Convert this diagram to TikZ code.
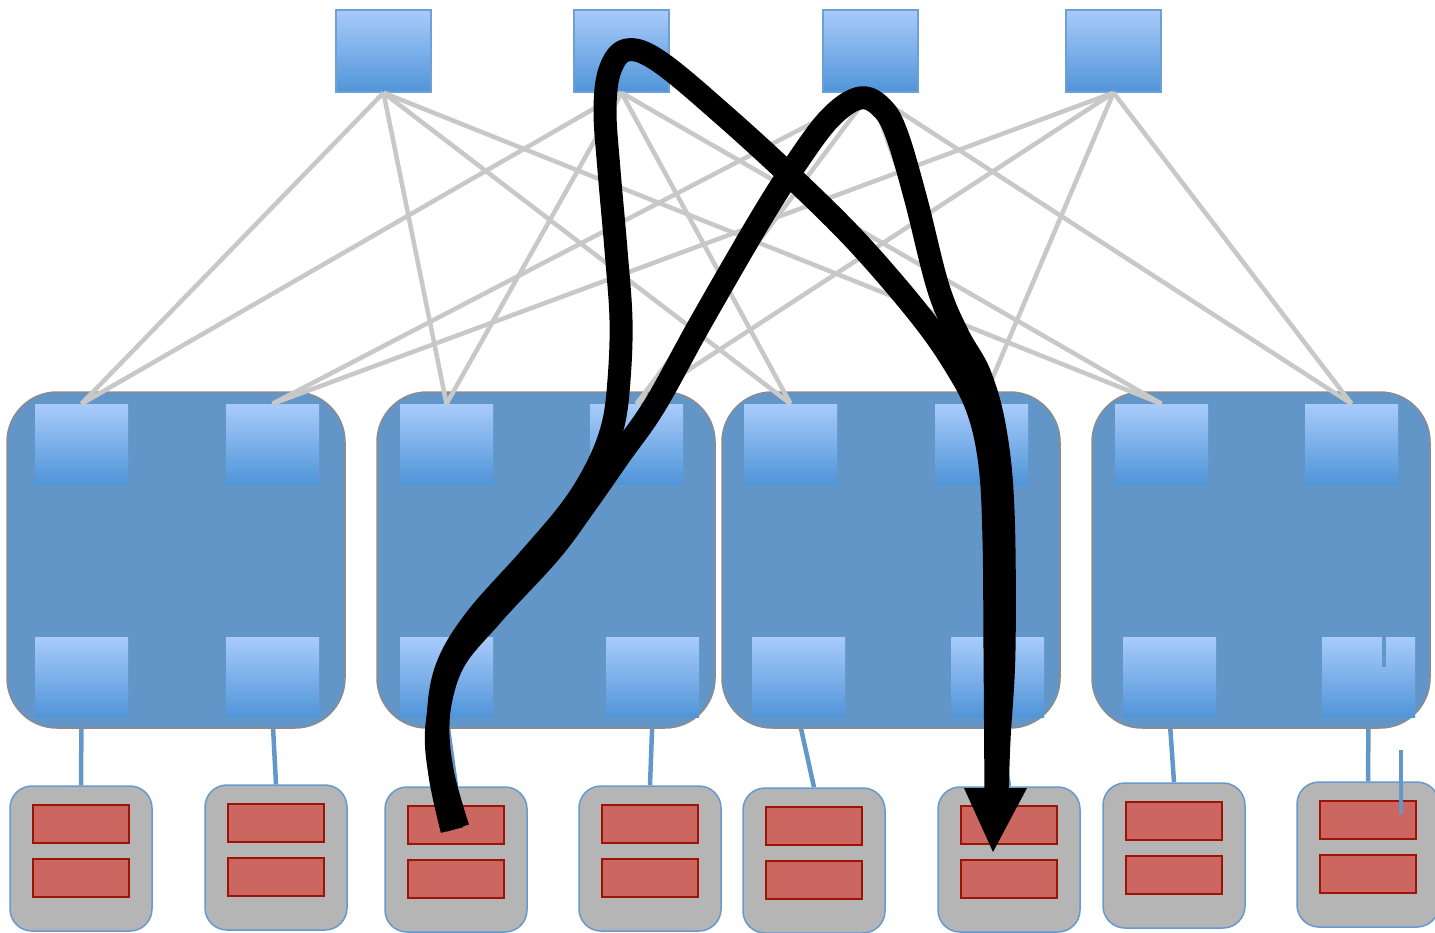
\documentclass[tikz,border=0pt]{standalone}
\usetikzlibrary{calc}
\definecolor{swtop}{RGB}{168,203,251}
\definecolor{swbot}{RGB}{80,149,216}
\definecolor{swline}{RGB}{110,160,214}
\definecolor{podfill}{RGB}{99,150,200}
\definecolor{podline}{RGB}{140,140,140}
\definecolor{wire}{RGB}{200,200,200}
\definecolor{bluewire}{RGB}{99,150,201}
\definecolor{srvfill}{RGB}{181,181,181}
\definecolor{srvline}{RGB}{102,153,206}
\definecolor{vmfill}{RGB}{204,102,96}
\definecolor{vmline}{RGB}{155,20,5}
\pgfdeclarelayer{back}
\pgfsetlayers{back,main}
\begin{document}
\begin{tikzpicture}[x=1pt,y=-1pt,
  core/.style={draw=swline, line width=1.5pt, top color=swtop, bottom color=swbot,
    minimum width=95pt, minimum height=82pt, inner sep=0pt},
  podsw/.style={draw=none, top color=swtop, bottom color=swbot,
    minimum width=93pt, minimum height=80pt, inner sep=0pt},
  pod/.style={draw=podline, line width=1.5pt, fill=podfill, rounded corners=50pt,
    minimum width=338pt, minimum height=336pt, inner sep=0pt},
  server/.style={draw=srvline, line width=1.5pt, fill=srvfill, rounded corners=22pt,
    minimum width=142pt, minimum height=145pt, inner sep=0pt},
  vm/.style={draw=vmline, line width=2pt, fill=vmfill,
    minimum width=96pt, minimum height=38pt, inner sep=0pt},
  uplink/.style={draw=wire, line width=4.5pt},
  downlink/.style={draw=bluewire, line width=4.5pt},
  flow/.style={draw=black, line width=23pt, line cap=butt, line join=round}
]
\useasboundingbox (0,0) rectangle (1435,932);

% core switches
\node[core] (c1) at (383.5,51) {};
\node[core] (c2) at (621.5,51) {};
\node[core] (c3) at (870.5,51) {};
\node[core] (c4) at (1113.5,51) {};

% pods
\node[pod] (p1) at (176,560) {};
\node[pod] (p2) at (546,560) {};
\node[pod] (p3) at (891,560) {};
\node[pod] (p4) at (1261,560) {};

% aggregation switches
\node[podsw] (a11) at (81.5,444) {};
\node[podsw] (a12) at (272.5,444) {};
\node[podsw] (a21) at (446.5,444) {};
\node[podsw] (a22) at (636.5,444) {};
\node[podsw] (a31) at (790.5,444) {};
\node[podsw] (a32) at (981.5,444) {};
\node[podsw] (a41) at (1161.5,444) {};
\node[podsw] (a42) at (1351.5,444) {};

% edge switches
\node[podsw] (e11) at (81.5,677) {};
\node[podsw] (e12) at (272.5,677) {};
\node[podsw] (e21) at (446.5,677) {};
\node[podsw] (e22) at (652.5,677) {};
\node[podsw] (e31) at (798.5,677) {};
\node[podsw] (e32) at (997.5,677) {};
\node[podsw] (e41) at (1169.5,677) {};
\node[podsw] (e42) at (1368.5,677) {};

% servers with two VMs each
\foreach \n/\x/\t in {1/81/786, 2/276/785, 3/456/787, 4/650/786,
                      5/814/788, 6/1009/787, 7/1174/783, 8/1368/782} {
  \node[server] (s\n) at (\x,\t+72.5) {};
  \node[vm] (v\n a) at (\x,\t+38) {};
  \node[vm] (v\n b) at (\x,\t+91.5) {};
}

% core to aggregation links
\foreach \c in {c1,c2} \foreach \a in {a11,a21,a31,a41}
  \draw[uplink] (\c.south) -- (\a.north);
\foreach \c in {c3,c4} \foreach \a in {a12,a22,a32,a42}
  \draw[uplink] (\c.south) -- (\a.north);

% edge to server links (behind the pods)
\begin{pgfonlayer}{back}
\foreach \e/\s in {e11/s1,e12/s2,e21/s3,e22/s4,e31/s5,e32/s6,e41/s7,e42/s8}
  \draw[downlink] (\e.south) -- (\s.north);
\end{pgfonlayer}

% stray short blue segments
\coordinate (t1) at (1384,637);
\coordinate (t2) at (1384,667);
\coordinate (t3) at (1401,750);
\coordinate (t4) at (1401,814);
\draw[downlink] (t1) -- (t2);
\draw[downlink] (t3) -- (t4);

% traffic flows
\draw[flow] plot[smooth, tension=0.6] coordinates {
  (458,828) (443,775) (438,725) (446,670) (475,620) (530,558) (572,508)
  (598,465) (613,425) (619,380) (621,320) (616,250) (609,170) (605,110)
  (610,70) (627,50) (660,62) (727,118) (800,185) (860,245) (920,315)
  (955,365) (978,410) (990,465) (994,540) (995,650) (996,800)};
\draw[flow] plot[smooth, tension=0.6] coordinates {
  (452,830) (440,775) (437,725) (452,665) (492,615) (550,552) (585,505)
  (620,455) (655,405) (701,322) (760,220) (795,165) (830,118) (860,98)
  (882,108) (897,135) (916,200) (938,287) (958,335) (980,375) (995,430)
  (1003,510) (1004,650) (999,740) (997,800)};
\coordinate (h1) at (964,788);
\coordinate (h2) at (1027,788);
\coordinate (h3) at (993,852);
\fill[black] (h1) -- (h2) -- (h3) -- cycle;
\end{tikzpicture}
\end{document}
